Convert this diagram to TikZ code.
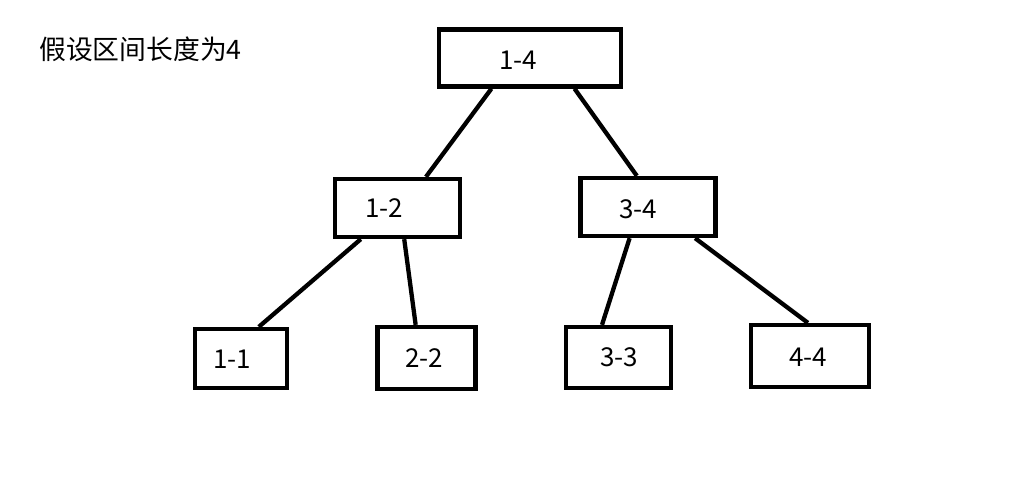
\documentclass[tikz,border=0pt]{standalone}
\usepackage{fontspec}
\setmainfont{Noto Sans CJK SC}
\usetikzlibrary{calc}
\tikzset{
  box/.style={draw=black, line width=4.3pt, inner sep=0pt, fill=white},
  lbl/.style={inner sep=0pt, font=\fontsize{26}{30}\selectfont},
  edge/.style={draw=black, line width=4.3pt},
}
\begin{document}
\begin{tikzpicture}[x=1pt,y=-1pt]
\useasboundingbox (0,0) rectangle (1015,488);
\fill[white] (0,0) rectangle (1015,488);
\node[inner sep=0pt, font=\fontsize{26.8}{30}\selectfont] (title) at (140.5,49) {假设区间长度为4};
% boxes
\node[box, minimum width=182pt, minimum height=57pt] (b14) at (530,58) {};
\node[box, minimum width=125pt, minimum height=58pt] (b12) at (397.5,208) {};
\node[box, minimum width=135pt, minimum height=58pt] (b34) at (648,207) {};
\node[box, minimum width=92pt, minimum height=59pt] (b11) at (241,358.5) {};
\node[box, minimum width=98pt, minimum height=62pt] (b22) at (426.5,358) {};
\node[box, minimum width=105pt, minimum height=61pt] (b33) at (618.5,357.5) {};
\node[box, minimum width=118pt, minimum height=62pt] (b44) at (810,356) {};
% labels
\node[lbl] (t14) at (518,60) {1-4};
\node[lbl] (t12) at (384,208) {1-2};
\node[lbl] (t34) at (638,209) {3-4};
\node[lbl] (t11) at (232,359) {1-1};
\node[lbl] (t22) at (424,358) {2-2};
\node[lbl] (t33) at (619,357) {3-3};
\node[lbl] (t44) at (808,357) {4-4};
% edges
\draw[edge] ($(b14.south west)!0.293!(b14.south east)$) -- ($(b12.north west)!0.72!(b12.north east)$);
\draw[edge] ($(b14.south west)!0.739!(b14.south east)$) -- ($(b34.north west)!0.42!(b34.north east)$);
\draw[edge] ($(b12.south west)!0.216!(b12.south east)$) -- ($(b11.north west)!0.685!(b11.north east)$);
\draw[edge] ($(b12.south west)!0.552!(b12.south east)$) -- ($(b22.north west)!0.394!(b22.north east)$);
\draw[edge] ($(b34.south west)!0.368!(b34.south east)$) -- ($(b33.north west)!0.349!(b33.north east)$);
\draw[edge] ($(b34.south west)!0.838!(b34.south east)$) -- ($(b44.north west)!0.483!(b44.north east)$);
\end{tikzpicture}
\end{document}
